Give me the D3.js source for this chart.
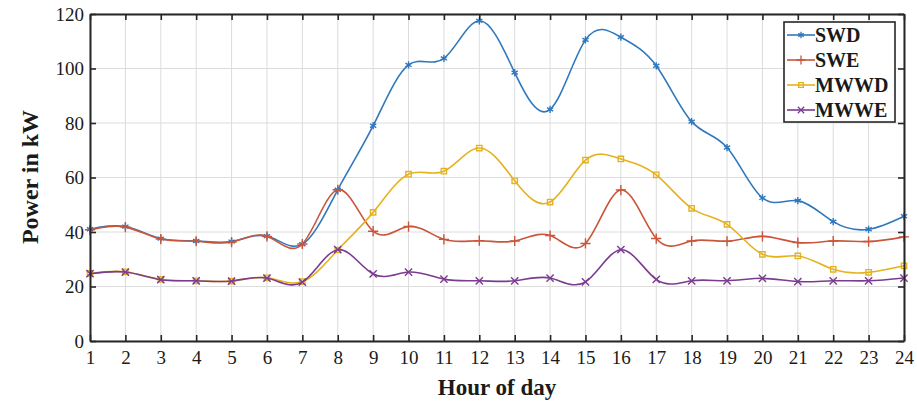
<!DOCTYPE html>
<html>
<head>
<meta charset="utf-8">
<script src="https://cdn.jsdelivr.net/npm/d3@7"></script>
<style>
  body { margin: 0; background: #fff; }
  text { font-family: "Liberation Serif", "Times New Roman", serif; fill: #1a1a1a; }
</style>
</head>
<body>
<div id="chart"></div>
<script>
// data
const hours = d3.range(1, 25);
const swd  = [41, 42, 37.6, 36.7, 36.5, 38.5, 35.5, 55.5, 79, 101.3, 103.7, 117.5, 98.5, 85, 110.5, 111.5, 101, 80.5, 71, 52.5, 51.5, 43.8, 41, 45.8];
const swe  = [40.8, 41.8, 37.4, 36.6, 36.3, 38.4, 35.6, 55.5, 40.3, 42, 37.3, 36.8, 36.7, 38.7, 35.8, 55.4, 37.6, 36.7, 36.6, 38.4, 36.1, 36.7, 36.5, 38.2];
const mwwd = [24.8, 25.4, 22.6, 22.1, 22, 23.2, 21.8, 33.4, 47.2, 61.2, 62.3, 70.8, 58.8, 51, 66.4, 66.8, 61, 48.7, 42.8, 31.8, 31.2, 26.3, 25.2, 27.6];
const mwwe = [24.7, 25.3, 22.5, 22.1, 22, 23.1, 21.6, 33.5, 24.6, 25.3, 22.7, 22.1, 22.1, 23.1, 21.7, 33.5, 22.6, 22.1, 22.1, 23, 21.8, 22.1, 22.1, 23.1];
const yTicks = [0, 20, 40, 60, 80, 100, 120];

const series = [
  {name: "SWD",  values: swd,  color: "#2f78bd", symbol: d3.symbolAsterisk},
  {name: "SWE",  values: swe,  color: "#c9553a", symbol: d3.symbolPlus},
  {name: "MWWD", values: mwwd, color: "#e5b21f", symbol: d3.symbolSquare2},
  {name: "MWWE", values: mwwe, color: "#7b3c8f", symbol: d3.symbolTimes}
];

const margin = {top: 14, right: 13, bottom: 61, left: 90},
    width = 917 - margin.left - margin.right,
    height = 402 - margin.top - margin.bottom;

let svg = d3.select("#chart")
            .append("svg")
            .attr("width", width + margin.left + margin.right)
            .attr("height", height + margin.top + margin.bottom)
        .append("g")
            .attr("transform", `translate(${margin.left}, ${margin.top})`);

const x = d3.scaleLinear().domain([1, 24]).range([0, width]);
const y = d3.scaleLinear().domain([0, 120]).range([height, 0]);

// grid
svg.append("g")
  .selectAll("line.vg")
  .data(hours)
  .join("line")
    .attr("x1", d => x(d)).attr("x2", d => x(d))
    .attr("y1", 0).attr("y2", height)
    .attr("stroke", "#dcdcdc").attr("stroke-width", 1);
svg.append("g")
  .selectAll("line.hg")
  .data(yTicks)
  .join("line")
    .attr("x1", 0).attr("x2", width)
    .attr("y1", d => y(d)).attr("y2", d => y(d))
    .attr("stroke", "#dcdcdc").attr("stroke-width", 1);

// lines + markers
const line = d3.line()
  .x((d, i) => x(hours[i]))
  .y(d => y(d))
  .curve(d3.curveNatural);

series.forEach(s => {
  svg.append("path")
    .datum(s.values)
    .attr("d", line)
    .attr("fill", "none")
    .attr("stroke", s.color)
    .attr("stroke-width", 1.6);
  svg.append("g")
    .selectAll("path")
    .data(s.values)
    .join("path")
      .attr("transform", (d, i) => `translate(${x(hours[i])},${y(d)})`)
      .attr("d", d3.symbol().type(s.symbol).size(36))
      .attr("fill", "none")
      .attr("stroke", s.color)
      .attr("stroke-width", 1.4);
});

// axes (box with inward ticks)
const tickLen = 6;
const xb = svg.append("g")
  .attr("transform", `translate(0,${height})`)
  .call(d3.axisBottom(x).tickValues(hours).tickSizeInner(-tickLen).tickSizeOuter(0).tickPadding(10).tickFormat(d3.format("d")));
const xt = svg.append("g")
  .call(d3.axisTop(x).tickValues(hours).tickSizeInner(-tickLen).tickSizeOuter(0).tickFormat(""));
const yl = svg.append("g")
  .call(d3.axisLeft(y).tickValues(yTicks).tickSizeInner(-tickLen).tickSizeOuter(0).tickPadding(6));
const yr = svg.append("g")
  .attr("transform", `translate(${width},0)`)
  .call(d3.axisRight(y).tickValues(yTicks).tickSizeInner(-tickLen).tickSizeOuter(0).tickFormat(""));

[xb, xt, yl, yr].forEach(a => {
  a.select(".domain").attr("stroke", "#262626").attr("stroke-width", 2);
  a.selectAll(".tick line").attr("stroke", "#262626").attr("stroke-width", 1.6);
  a.selectAll(".tick text")
    .style("font-family", "'Liberation Serif', serif")
    .style("font-size", "19px")
    .attr("fill", "#1a1a1a");
});

// axis titles
svg.append("text")
  .attr("x", width / 2)
  .attr("y", height + 54)
  .attr("text-anchor", "middle")
  .style("font-size", "23px")
  .style("font-weight", "bold")
  .text("Hour of day");

svg.append("text")
  .attr("transform", `translate(${-52},${163}) rotate(-90)`)
  .attr("text-anchor", "middle")
  .style("font-size", "24px")
  .style("font-weight", "bold")
  .text("Power in kW");

// legend
const lx = 694, ly = 8;
const legend = svg.append("g").attr("transform", `translate(${lx},${ly})`);
legend.append("rect")
  .attr("width", 111).attr("height", 100)
  .attr("fill", "#fff").attr("stroke", "#262626").attr("stroke-width", 1.6);
series.forEach((s, i) => {
  const row = legend.append("g").attr("transform", `translate(0,${13 + i * 25})`);
  row.append("line").attr("x1", 3).attr("x2", 31)
    .attr("stroke", s.color).attr("stroke-width", 1.6);
  row.append("path").attr("transform", "translate(17,0)")
    .attr("d", d3.symbol().type(s.symbol).size(28))
    .attr("fill", "none").attr("stroke", s.color).attr("stroke-width", 1.3);
  row.append("text").attr("x", 31).attr("y", 7)
    .style("font-size", "20px").style("font-weight", "bold")
    .text(s.name);
});
</script>
</body>
</html>
